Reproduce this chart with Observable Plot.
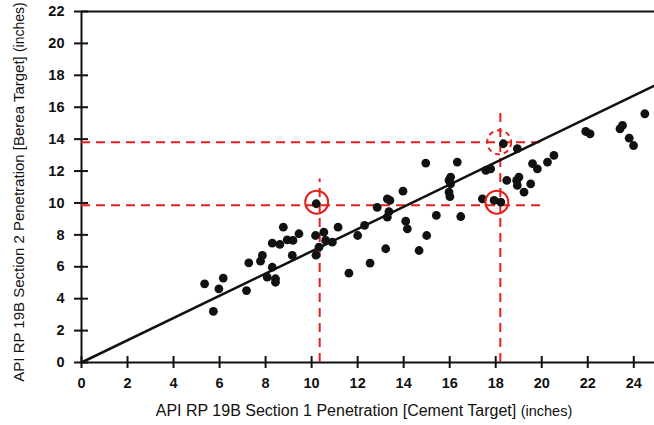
<!DOCTYPE html>
<html>
<head>
<meta charset="utf-8">
<script src="https://cdn.jsdelivr.net/npm/d3@7"></script>
<script src="https://cdn.jsdelivr.net/npm/@observablehq/plot@0.6"></script>
<style>
  html, body { margin: 0; padding: 0; background: #fff; }
  #chart { width: 654px; height: 425px; overflow: hidden; }
</style>
</head>
<body>
<div id="chart"></div>
<script>
// Section 1 (cement target) penetration, inches
const cementPen = [5.35, 5.73, 5.97, 6.16, 7.17, 7.27, 7.78, 7.86, 8.07, 8.29, 8.43, 8.43, 8.29, 8.62, 8.77, 8.94, 9.19, 9.16, 9.45, 10.17, 10.53, 10.32, 10.19, 10.61, 10.9, 11.15, 10.2, 11.62, 12.0, 12.3, 12.54, 12.85, 13.22, 13.29, 13.36, 13.29, 13.4, 13.97, 14.09, 14.16, 14.67, 14.96, 15.0, 15.42, 15.97, 16.04, 15.97, 16.04, 16.01, 16.33, 16.48, 17.42, 17.57, 17.78, 17.93, 18.22, 18.33, 18.48, 18.94, 18.91, 19.01, 18.94, 19.23, 19.52, 19.6, 19.81, 20.25, 20.53, 21.91, 22.1, 23.4, 23.51, 23.8, 23.99, 24.48];
// Section 2 (Berea target) penetration, inches
const bereaPen = [4.93, 3.2, 4.62, 5.29, 4.51, 6.25, 6.35, 6.71, 5.35, 5.97, 5.25, 5.03, 7.48, 7.4, 8.48, 7.69, 7.65, 6.71, 8.07, 7.96, 8.17, 7.23, 6.73, 7.65, 7.54, 8.48, 9.95, 5.6, 7.96, 8.59, 6.23, 9.72, 7.13, 9.11, 9.45, 10.26, 10.16, 10.74, 8.86, 8.38, 7.02, 12.5, 7.96, 9.22, 10.68, 11.2, 11.41, 11.62, 10.4, 12.56, 9.15, 10.26, 12.04, 12.14, 10.16, 10.05, 13.71, 11.41, 13.4, 11.41, 11.62, 11.1, 10.68, 11.2, 12.46, 12.14, 12.56, 12.98, 14.48, 14.33, 14.65, 14.86, 14.06, 13.6, 15.59];

const xTicks = [0, 2, 4, 6, 8, 10, 12, 14, 16, 18, 20, 22, 24];
const yTicks = [0, 2, 4, 6, 8, 10, 12, 14, 16, 18, 20, 22];
const xDomain = [0, 24.9];
const yDomain = [0, 22];

// fit line y = slope * x
const fitSlope = 0.697;
const fitX = [0, 24.9];

// red dashed guides
const guideH = [{y: 9.85, x1: 0, x2: 20.2}, {y: 13.8, x1: 0, x2: 20.2}];
const guideV = [{x: 10.35, y1: 0, y2: 11.5}, {x: 18.2, y1: 0, y2: 15.85}];
// highlighted points
const solidCircles = [{x: 10.22, y: 10.05}, {x: 18.05, y: 10.05}];
const dashedCircles = [{x: 18.15, y: 13.8}];

const xTitle = "API RP 19B Section 1 Penetration [Cement Target]";
const yTitle = "API RP 19B Section 2 Penetration [Berea Target]";
const unitText = "(inches)";

const points = cementPen.map((x, i) => ({x, y: bereaPen[i]}));
const fitLine = fitX.map(x => ({x, y: fitSlope * x}));

const RED = "#e3201c";

const chart = Plot.plot({
  width: 654,
  height: 425,
  marginLeft: 81,
  marginTop: 11,
  marginBottom: 63,
  marginRight: 0,
  x: {domain: xDomain},
  y: {domain: yDomain},
  style: {fontFamily: "'Liberation Sans', Arial, sans-serif", background: "#fff", color: "#111"},
  marks: [
    Plot.ruleY([0, 22], {stroke: "#111", strokeWidth: 2}),
    Plot.ruleX([0], {stroke: "#111", strokeWidth: 2}),
    // crossing tick marks
    Plot.axisX({ticks: xTicks, tickSize: 12, dy: -6, tickFormat: () => "", label: null, strokeWidth: 2, stroke: "#111"}),
    Plot.axisX({ticks: xTicks, tickSize: 0, tickPadding: 15, label: null, fontSize: 14.5, fontWeight: "bold", fill: "#111"}),
    Plot.axisY({ticks: yTicks, tickSize: 14, dx: 7, tickFormat: () => "", label: null, strokeWidth: 2, stroke: "#111"}),
    Plot.axisY({ticks: yTicks, tickSize: 0, tickPadding: 17, label: null, fontSize: 14.5, fontWeight: "bold", fill: "#111"}),
    // guides
    Plot.ruleY(guideH, {y: "y", x1: "x1", x2: "x2", stroke: RED, strokeWidth: 2, strokeDasharray: "9,6"}),
    Plot.ruleX(guideV, {x: "x", y1: "y1", y2: "y2", stroke: RED, strokeWidth: 2, strokeDasharray: "9,6"}),
    // fit line
    Plot.line(fitLine, {x: "x", y: "y", stroke: "#111", strokeWidth: 2.5}),
    // data
    Plot.dot(points, {x: "x", y: "y", r: 4.4, fill: "#111", stroke: "none"}),
    // circles
    Plot.dot(solidCircles, {x: "x", y: "y", r: 11.5, stroke: RED, strokeWidth: 2, fill: "none"}),
    Plot.dot(dashedCircles, {x: "x", y: "y", r: 12, stroke: RED, strokeWidth: 2, fill: "none", strokeDasharray: "5,4"})
  ]
});

const svg = d3.select(chart);
const xt = svg.append("text")
  .attr("x", 364).attr("y", 416)
  .attr("text-anchor", "middle")
  .attr("font-size", 16)
  .attr("fill", "#111");
xt.append("tspan").text(xTitle + " ");
xt.append("tspan").attr("font-size", 14.5).text(unitText);

const yt = svg.append("text")
  .attr("transform", "translate(24,192) rotate(-90)")
  .attr("text-anchor", "middle")
  .attr("font-size", 15)
  .attr("fill", "#111");
yt.append("tspan").text(yTitle + " ");
yt.append("tspan").attr("font-size", 14).text(unitText);

document.getElementById("chart").appendChild(chart);
</script>
</body>
</html>
